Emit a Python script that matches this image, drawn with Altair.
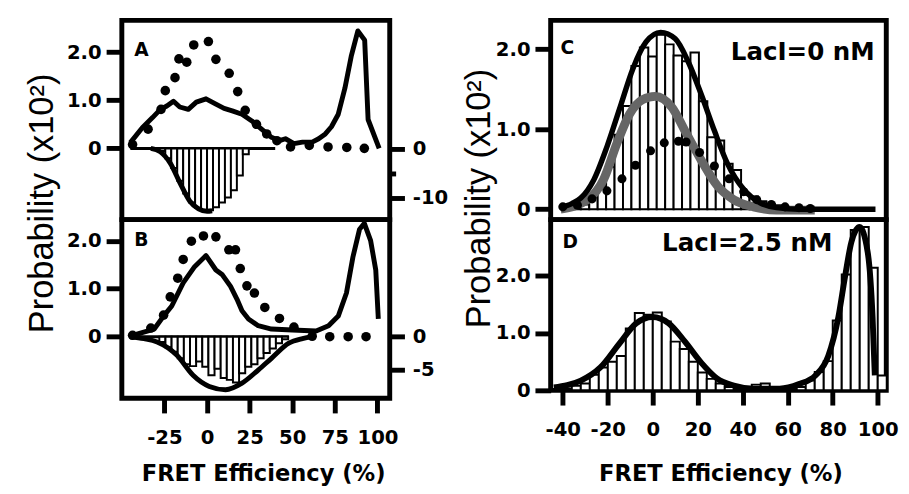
import altair as alt
import pandas as pd

# ---------------- Panel A ----------------
A_DOT_E = [-43.7, -34.6, -27.0, -24.5, -18.8, -16.5, -11.9, -7.8, 0.8, 5.2, 13.0, 18.0, 22.4, 29.0, 35.0, 41.0, 49.0, 60.0, 71.0, 82.0, 92.3]
A_DOT_P = [0.08, 0.40, 0.81, 1.20, 1.47, 1.86, 1.79, 2.15, 2.22, 1.85, 1.56, 1.18, 0.79, 0.50, 0.30, 0.16, 0.03, 0.06, 0.03, 0.02, 0.00]
A_LINE_E = [-45.0, -38.0, -32.0, -27.4, -23.6, -19.7, -16.0, -11.0, -6.3, -0.6, 5.2, 10.0, 14.8, 20.5, 26.3, 32.0,
            37.8, 42.5, 46.0, 51.0, 56.0, 61.7, 65.5, 69.4, 73.0, 77.0, 80.9, 84.7, 88.5, 92.5, 94.5, 101.0]
A_LINE_P = [0.12, 0.43, 0.64, 0.81, 0.88, 0.98, 0.86, 0.81, 0.96, 1.03, 0.92, 0.83, 0.78, 0.71, 0.57, 0.40,
            0.23, 0.16, 0.20, 0.10, 0.13, 0.13, 0.20, 0.30, 0.45, 0.71, 1.25, 1.93, 2.44, 2.25, 0.60, 0.00]
A_BIN_C = [-26.25, -22.75, -19.25, -15.75, -12.25, -8.75, -5.25, -1.75, 1.75, 5.25, 8.75, 12.25, 15.75, 19.25, 22.75]
A_BIN_R = [-0.5, -2.0, -4.0, -6.6, -9.2, -11.0, -12.1, -12.6, -12.6, -12.0, -11.0, -10.0, -8.5, -5.5, -1.2]
A_BIN_W = 3.5
A_FIT_E = [-33.0, -27.4, -21.6, -15.9, -10.2, -5.0, 0.0, 3.0]
A_FIT_R = [0.0, -0.7, -3.0, -7.0, -10.7, -12.3, -12.8, -12.7]
A_BASE_E = [-45.0, 40.0]

# ---------------- Panel B ----------------
B_DOT_E = [-43.7, -33.0, -25.5, -21.6, -17.2, -14.0, -9.2, -2.1, 5.2, 12.8, 16.7, 19.5, 23.4, 27.8, 33.9, 42.5, 51.0, 61.7, 72.0, 82.8, 93.3]
B_DOT_P = [0.03, 0.18, 0.45, 0.83, 1.22, 1.61, 1.99, 2.10, 2.08, 1.81, 1.81, 1.42, 1.06, 0.91, 0.61, 0.38, 0.20, 0.01, 0.00, 0.00, 0.00]
B_LINE_E = [-43.7, -31.0, -25.5, -20.7, -14.0, -7.3, -0.6, 5.2, 9.0, 13.8, 17.6, 20.5, 24.3, 30.0, 37.8, 50.0, 64.0,
            71.3, 77.0, 81.8, 85.6, 89.5, 92.3, 96.0, 99.0, 100.5]
B_LINE_P = [0.03, 0.16, 0.43, 0.64, 1.12, 1.46, 1.69, 1.39, 1.29, 1.05, 0.78, 0.54, 0.37, 0.23, 0.16, 0.14, 0.12,
            0.23, 0.43, 0.91, 1.66, 2.24, 2.36, 2.00, 1.39, 0.37]
B_BIN_C = [-26.2, -22.6, -19.0, -15.4, -11.8, -8.2, -4.6, -1.0, 2.6, 6.2, 9.8, 13.4, 17.0, 20.6, 24.2, 27.8, 31.4, 35.0, 38.6, 42.2, 45.8]
B_BIN_R = [-0.8, -1.6, -2.3, -3.3, -4.2, -4.5, -3.8, -4.6, -5.9, -4.9, -6.3, -6.6, -7.0, -5.6, -4.6, -4.2, -3.3, -2.5, -1.8, -1.0, -0.4]
B_BIN_W = 3.6
B_FIT_E = [-45.0, -37.0, -29.3, -17.8, -8.2, 1.3, 10.9, 20.5, 30.0, 37.8, 48.0, 56.0, 62.0]
B_FIT_R = [0.0, -0.3, -0.8, -2.8, -5.9, -7.6, -8.1, -7.1, -5.1, -3.3, -1.0, -0.3, 0.0]
B_BASE_E = [-45.0, 48.0]

# ---------------- Panel C ----------------
C_BIN_C = [-33.875, -30.125, -26.375, -22.625, -18.875, -15.125, -11.375, -7.625, -3.875, -0.125, 3.625, 7.375,
           11.125, 14.875, 18.625, 22.375, 26.125, 29.875, 33.625, 37.375, 41.125, 44.875, 48.625, 52.375,
           56.125, 59.875, 63.625]
C_BIN_P = [0.03, 0.06, 0.15, 0.28, 0.53, 0.93, 1.29, 1.79, 2.02, 1.91, 2.18, 2.06, 1.92, 1.85, 1.96, 1.35,
           0.90, 0.86, 0.57, 0.49, 0.18, 0.16, 0.10, 0.07, 0.05, 0.03, 0.02]
C_BIN_W = 3.75
C_FIT_E = [-41.0, -36.0, -32.0, -26.2, -20.4, -14.6, -8.8, -3.0, 3.5, 10.0, 15.8, 21.6, 27.4, 33.2, 40.4, 47.7, 55.0, 65.0, 80.0, 99.0]
C_FIT_P = [0.02, 0.07, 0.14, 0.37, 0.78, 1.27, 1.76, 2.09, 2.21, 2.13, 1.84, 1.43, 0.98, 0.57, 0.25, 0.08, 0.02, 0.0, 0.0, 0.0]
C_GRAY_E = [-41.0, -29.0, -21.9, -16.0, -10.3, -4.5, 1.0, 8.6, 14.3, 21.6, 28.8, 36.0, 44.8, 55.0, 72.0]
C_GRAY_P = [0.0, 0.12, 0.37, 0.82, 1.19, 1.37, 1.41, 1.27, 0.98, 0.61, 0.29, 0.12, 0.03, -0.01, -0.01]
C_DOT_E = [-40.0, -33.5, -27.0, -20.4, -13.7, -7.7, -1.0, 5.1, 11.4, 14.8, 20.8, 27.4, 33.9, 40.4, 46.2, 52.7, 58.8, 65.0, 70.0]
C_DOT_P = [0.03, 0.05, 0.13, 0.23, 0.38, 0.55, 0.73, 0.83, 0.85, 0.84, 0.71, 0.54, 0.38, 0.22, 0.12, 0.06, 0.03, 0.02, 0.01]

# ---------------- Panel D ----------------
D_BIN_C = [-38, -34, -30, -26, -22, -18, -14, -10, -6, -2, 2, 6, 10, 14, 18, 22, 26, 30, 34, 38, 42, 46, 50, 54,
           58, 62, 66, 70, 74, 78, 82, 86, 90, 94, 98, 102]
D_BIN_P = [0.03, 0.08, 0.12, 0.27, 0.40, 0.50, 0.60, 1.08, 1.35, 1.32, 1.36, 1.20, 0.85, 0.72, 0.50, 0.31, 0.20,
           0.12, 0.06, 0.03, 0.02, 0.10, 0.12, 0.05, 0.03, 0.03, 0.06, 0.17, 0.32, 0.51, 1.22, 2.02, 2.80, 2.85, 2.14, 0.26]
D_BIN_W = 4.0
D_FIT_E = [-44.0, -38.0, -32.0, -23.3, -14.6, -7.4, -0.1, 7.1, 14.3, 21.6, 28.5, 36.0, 44.8, 56.4, 65.0, 72.3,
           78.0, 82.5, 85.4, 88.3, 91.9, 95.5, 97.7, 98.7]
D_FIT_P = [0.05, 0.09, 0.17, 0.40, 0.83, 1.17, 1.28, 1.17, 0.85, 0.48, 0.21, 0.085, 0.03, 0.03, 0.11, 0.26,
           0.60, 1.28, 1.97, 2.59, 2.85, 2.42, 1.28, 0.26]

# ---------------- annotations ----------------
LETTERS = ["A", "B", "C", "D"]
LETTER_E = [-42.7, -42.7, -41.0, -40.1]
LETTER_P = [1.93, 1.90, 1.94, 2.48]
CONC = ["LacI=0 nM", "LacI=2.5 nM"]
CONC_E = [98.6, 79.8]
CONC_P = [1.86, 2.44]

X_TITLE = "FRET Efficiency (%)"
Y_TITLE = "Probability (x10\u00b2)"

XL = [-50.0, 107.2]
XR = [-45.4, 103.8]
W_L, W_R = 273, 342
H_A, H_B, H_C, H_D = 203, 182, 203, 174

BOLD = "DejaVu Sans"
AX = dict(labelFont=BOLD, labelFontWeight="bold", labelFontSize=20, labelColor="black",
          tickColor="black", tickWidth=5, domain=False, grid=False)
P_LABEL = "datum.value == 0 ? '0' : format(datum.value, '.1f')"
U = alt.Undefined


def pts(e, v):
    return pd.DataFrame({"E": e, "v": v})


def bins(c, w, v):
    return pd.DataFrame({"x0": [x - w / 2 for x in c], "x1": [x + w / 2 for x in c], "v": v, "z": [0] * len(c)})


def xenc(dom, axis=U, field="E:Q"):
    return alt.X(field, scale=alt.Scale(domain=dom, nice=False, zero=False), axis=axis)


def yenc(dom, axis=U):
    return alt.Y("v:Q", scale=alt.Scale(domain=dom, nice=False, zero=False), axis=axis)


def left_axis(title=None, tx=None, ty=None):
    kw = dict(AX)
    kw.update(values=[0, 1, 2], labelExpr=P_LABEL, tickSize=16, labelPadding=5)
    if title:
        kw.update(title=title, titleFont="Liberation Sans", titleFontWeight="normal", titleFontSize=35,
                  titleColor="black", titleX=tx, titleY=ty, titleAlign="center")
    else:
        kw.update(title=None)
    return alt.Axis(**kw)


def bottom_axis(values, tx, ty):
    kw = dict(AX)
    kw.update(values=values, labelExpr="'' + datum.value", tickSize=15, labelPadding=15,
              title=X_TITLE, titleFont=BOLD, titleFontWeight="bold", titleFontSize=23, titleColor="black",
              titleX=tx, titleY=ty)
    return alt.Axis(**kw)


def right_axis(values, minor=None):
    kw = dict(AX)
    if minor is not None:
        lab = "datum.value == %d ? '' : '' + datum.value" % minor
        ts = {"condition": {"test": "datum.value == %d" % minor, "value": 6}, "value": 15}
    else:
        lab = "'' + datum.value"
        ts = 15
    kw.update(values=values, labelExpr=lab, tickSize=ts, labelPadding=8, title=None, orient="right")
    return alt.Axis(**kw)


def text_layer(labels, e, p, xdom, ydom, size, align, xax=U):
    df = pd.DataFrame({"E": e, "v": p, "t": labels})
    return alt.Chart(df).mark_text(font=BOLD, fontWeight="bold", fontSize=size, align=align,
                                   baseline="alphabetic", color="black").encode(
        x=xenc(xdom, xax), y=yenc(ydom), text="t:N")


def dual_panel(dot_e, dot_p, line_e, line_p, bin_c, bin_w, bin_r, fit_e, fit_r, base_e,
               pdom, rdom, paxis, raxis, xaxis, letter_idx, height):
    xo = None if xaxis is None else U
    p_line = alt.Chart(pts(line_e, line_p)).mark_line(color="black", strokeWidth=5, strokeJoin="round").encode(
        x=xenc(XL, xaxis), y=yenc(pdom, paxis))
    p_dots = alt.Chart(pts(dot_e, dot_p)).mark_circle(color="black", size=95, opacity=1).encode(
        x=xenc(XL, xo), y=yenc(pdom))
    p_txt = text_layer([LETTERS[letter_idx]], [LETTER_E[letter_idx]], [LETTER_P[letter_idx]], XL, pdom, 19,
                       "left", xo)
    p_layer = alt.layer(p_line, p_dots, p_txt)

    r_base = alt.Chart(pd.DataFrame({"x0": [base_e[0]], "x1": [base_e[1]], "v": [0]})).mark_rule(
        color="black", strokeWidth=3).encode(x=xenc(XL, xo, field="x0:Q"), x2="x1:Q", y=yenc(rdom, raxis))
    r_bars = alt.Chart(bins(bin_c, bin_w, bin_r)).mark_bar(fill="white", fillOpacity=1, stroke="black",
                                                            strokeWidth=2).encode(
        x=xenc(XL, xo, field="x0:Q"), x2="x1:Q", y=yenc(rdom), y2="z:Q")
    r_fit = alt.Chart(pts(fit_e, fit_r)).mark_line(color="black", strokeWidth=5, interpolate="monotone").encode(
        x=xenc(XL, xo), y=yenc(rdom))
    r_layer = alt.layer(r_base, r_bars, r_fit)
    return alt.layer(p_layer, r_layer).resolve_scale(y="independent").properties(width=W_L, height=height)


A = dual_panel(A_DOT_E, A_DOT_P, A_LINE_E, A_LINE_P, A_BIN_C, A_BIN_W, A_BIN_R, A_FIT_E, A_FIT_R, A_BASE_E,
               [-1.48, 2.66], [-14.5, 26.1], left_axis(Y_TITLE, -64, 186), right_axis([0, -5, -10], -5),
               None, 0, H_A)
B = dual_panel(B_DOT_E, B_DOT_P, B_LINE_E, B_LINE_P, B_BIN_C, B_BIN_W, B_BIN_R, B_FIT_E, B_FIT_R, B_BASE_E,
               [-1.28, 2.44], [-9.4, 17.9], left_axis(), right_axis([0, -5]),
               bottom_axis([-25, 0, 25, 50, 75, 100], 144, 66), 1, H_B)


def hist_panel(bin_c, bin_w, bin_p, pdom, paxis, xaxis, height, extra_fn, letter_idx, conc_idx):
    xo = None if xaxis is None else U
    bars = alt.Chart(bins(bin_c, bin_w, bin_p)).mark_bar(fill="white", fillOpacity=1, stroke="black",
                                                          strokeWidth=2).encode(
        x=xenc(XR, xaxis, field="x0:Q"), x2="x1:Q", y=yenc(pdom, paxis), y2="z:Q")
    t1 = text_layer([LETTERS[letter_idx]], [LETTER_E[letter_idx]], [LETTER_P[letter_idx]], XR, pdom, 19, "left", xo)
    t2 = text_layer([CONC[conc_idx]], [CONC_E[conc_idx]], [CONC_P[conc_idx]], XR, pdom, 25, "right", xo)
    return alt.layer(bars, *extra_fn(xo), t1, t2).properties(width=W_R, height=height)


PC = [-0.129, 2.36]
PD = [0.0, 2.98]


def c_extra(xo):
    c_gray = alt.Chart(pts(C_GRAY_E, C_GRAY_P)).mark_line(color="#666666", strokeWidth=9,
                                                           interpolate="monotone").encode(
        x=xenc(XR, xo), y=yenc(PC))
    c_fit = alt.Chart(pts(C_FIT_E, C_FIT_P)).mark_line(color="black", strokeWidth=5.5,
                                                         interpolate="monotone").encode(
        x=xenc(XR, xo), y=yenc(PC))
    c_dots = alt.Chart(pts(C_DOT_E, C_DOT_P)).mark_circle(color="black", size=85, opacity=1).encode(
        x=xenc(XR, xo), y=yenc(PC))
    return [c_gray, c_fit, c_dots]


def d_extra(xo):
    d_fit = alt.Chart(pts(D_FIT_E, D_FIT_P)).mark_line(color="black", strokeWidth=6,
                                                         interpolate="monotone").encode(
        x=xenc(XR, xo), y=yenc(PD))
    return [d_fit]


C = hist_panel(C_BIN_C, C_BIN_W, C_BIN_P, PC, left_axis(Y_TITLE, -55, 181), None, H_C, c_extra, 2, 0)
D = hist_panel(D_BIN_C, D_BIN_W, D_BIN_P, PD, left_axis(),
               bottom_axis([-40, -20, 0, 20, 40, 60, 80, 100], 173, 74), H_D, d_extra, 3, 1)

chart = alt.concat(A, C, B, D, columns=2, spacing={"row": 0, "column": 164}, bounds="flush").properties(
    padding={"left": 14, "top": 5, "right": 0, "bottom": 0}, background="white"
).configure_view(stroke="black", strokeWidth=5)

chart.save("out.html", embed_options={"renderer": "svg", "actions": False})
